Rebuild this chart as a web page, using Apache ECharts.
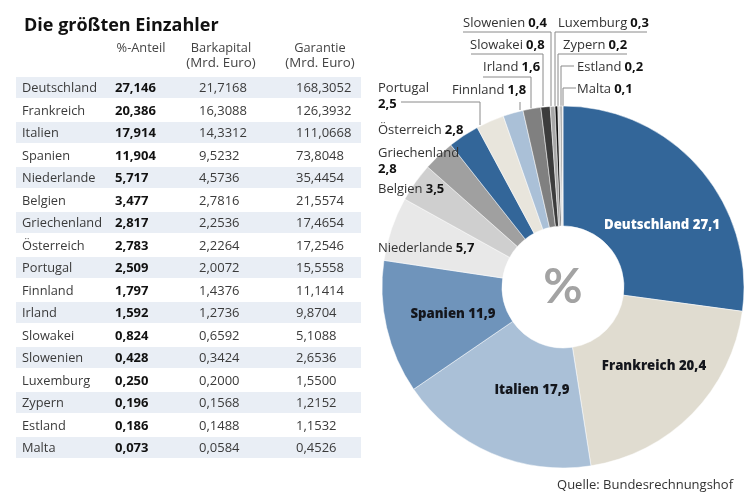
<!DOCTYPE html>
<html><head><meta charset="utf-8">
<script src="https://cdn.jsdelivr.net/npm/echarts@6/dist/echarts.min.js"></script>
<style>html,body{margin:0;padding:0;background:#fff}#c{width:750px;height:500px}</style>
</head><body><div id="c"></div>
<script>
const countries = ['Deutschland','Frankreich','Italien','Spanien','Niederlande','Belgien','Griechenland','Österreich','Portugal','Finnland','Irland','Slowakei','Slowenien','Luxemburg','Zypern','Estland','Malta'];
const anteil = [27.146,20.386,17.914,11.904,5.717,3.477,2.817,2.783,2.509,1.797,1.592,0.824,0.428,0.250,0.196,0.186,0.073];
const barkapital = [21.7168,16.3088,14.3312,9.5232,4.5736,2.7816,2.2536,2.2264,2.0072,1.4376,1.2736,0.6592,0.3424,0.2000,0.1568,0.1488,0.0584];
const garantie = [168.3052,126.3932,111.0668,73.8048,35.4454,21.5574,17.4654,17.2546,15.5558,11.1414,9.8704,5.1088,2.6536,1.5500,1.2152,1.1532,0.4526];
const sliceColors = ['#336699','#e0dcd0','#aac0d7','#6f94bb','#e8e8e8','#cfcfcf','#a0a0a0','#336699','#e8e5dc','#aac0d7','#808080','#3c3c3c','#a8a8a8','#111111','#d0d0d0','#9a9a9a','#dddddd'];

const FONT = '"Open Sans","Noto Sans",sans-serif';
const de = (v,d) => v.toFixed(d).replace('.',',');

// Label placement: [x, y, align, leader points]
const place = {
  'Deutschland':[662,225,'center'],
  'Frankreich':[654,366,'center'],
  'Italien':[532,390,'center'],
  'Spanien':[453,314,'center'],
  'Niederlande':[378,248,'left'],
  'Belgien':[378,189,'left'],
  'Griechenland':[378,161,'left'],
  'Österreich':[378,130,'left'],
  'Portugal':[378,96,'left',[[480,125],[480,102],[401,102]]],
  'Finnland':[452,90,'left',[[520,110],[520,106],[520,102]]],
  'Irland':[483,67,'left',[[531,108],[531,77],[483,77]]],
  'Slowakei':[470,45,'left',[[543,106],[543,54],[471,54]]],
  'Slowenien':[463,23,'left',[[551,106],[551,32],[463,32]]],
  'Luxemburg':[558,23,'left',[[555,106],[555,32],[647,32]]],
  'Zypern':[563,45,'left',[[558,106],[558,54],[627,54]]],
  'Estland':[577,67,'left',[[561,106],[561,66],[574,66]]],
  'Malta':[577,89,'left',[[563,106],[563,88],[576,88]]]
};
const inner = new Set(['Deutschland','Frankreich','Italien','Spanien']);
const twoLine = new Set(['Portugal','Griechenland']);

const pieData = countries.map((name,i)=>{
  const isIn = inner.has(name);
  const val = de(anteil[i],1);
  return {
    name, value: anteil[i],
    itemStyle:{color:sliceColors[i]},
    label: isIn ? {
      position:'inside', fontFamily:FONT, fontWeight:800, fontSize:13.2,
      color: name==='Deutschland' ? '#ffffff' : '#14161c',
      formatter: name+' '+val
    } : {
      position:'outside', fontFamily:FONT, color:'#333',
      formatter: twoLine.has(name) ? '{n|'+name+'}\n{v|'+val+'}' : '{n|'+name+'} {v|'+val+'}',
      rich:{
        n:{fontFamily:FONT,fontSize:13,color:'#333',lineHeight:16},
        v:{fontFamily:FONT,fontSize:13,fontWeight:700,color:'#111',lineHeight:16}
      }
    },
    labelLine:{show: !!place[name][3], lineStyle:{color:'#8a8a8a',width:1}}
  };
});

const g = [];
const txt = (x,y,text,o={}) => g.push({type:'text',x,y,silent:true,z:5,style:Object.assign({
  text,fontFamily:FONT,fontSize:13,fill:'#3a3a3a',textAlign:'left',textVerticalAlign:'middle'},o)});
txt(24,26,'Die größten Einzahler',{fontSize:18,fontWeight:700,fill:'#111'});
txt(141,48,'%-Anteil',{textAlign:'center',fontSize:12.8,fill:'#444'});
txt(221,48,'Barkapital',{textAlign:'center',fontSize:12.8,fill:'#444'});
txt(221,63,'(Mrd. Euro)',{textAlign:'center',fontSize:13.3,fill:'#444'});
txt(320,48,'Garantie',{textAlign:'center',fontSize:12.8,fill:'#444'});
txt(320,63,'(Mrd. Euro)',{textAlign:'center',fontSize:13.3,fill:'#444'});
countries.forEach((name,i)=>{
  const y = 87.5 + i*22.5;
  if(i%2===0) g.push({type:'rect',silent:true,z:1,shape:{x:16,y:y-10.5,width:345,height:21},style:{fill:'#e9eef5'}});
  txt(22,y+1,name,{fontSize:12.8});
  txt(115,y+1,de(anteil[i],3),{fontWeight:700,fill:'#111'});
  txt(199,y+1,de(barkapital[i],4));
  txt(296,y+1,de(garantie[i],4));
});
txt(563,288,'%',{textAlign:'center',fontFamily:'Lato,"Open Sans",sans-serif',fontSize:48,fontWeight:700,fill:'#a3a3a3'});
txt(733,485,'Quelle: Bundesrechnungshof',{textAlign:'right',fontSize:13,fill:'#333'});

const chart = echarts.init(document.getElementById('c'),null,{renderer:'canvas'});
chart.setOption({
  animation:false,
  backgroundColor:'#fff',
  graphic:{elements:g},
  series:[{
    type:'pie',
    center:[563,287],
    radius:[61,181],
    startAngle:90,
    clockwise:true,
    avoidLabelOverlap:false,
    silent:true,
    itemStyle:{borderColor:'#fff',borderWidth:0.5},
    data:pieData,
    labelLayout:(p)=>{
      const c = place[countries[p.dataIndex]];
      const o = {x:c[0],y:c[1],align:c[2],verticalAlign:'middle',hideOverlap:false,moveOverlap:false};
      if(c[3]) o.labelLinePoints = c[3];
      return o;
    }
  }]
});
</script></body></html>
